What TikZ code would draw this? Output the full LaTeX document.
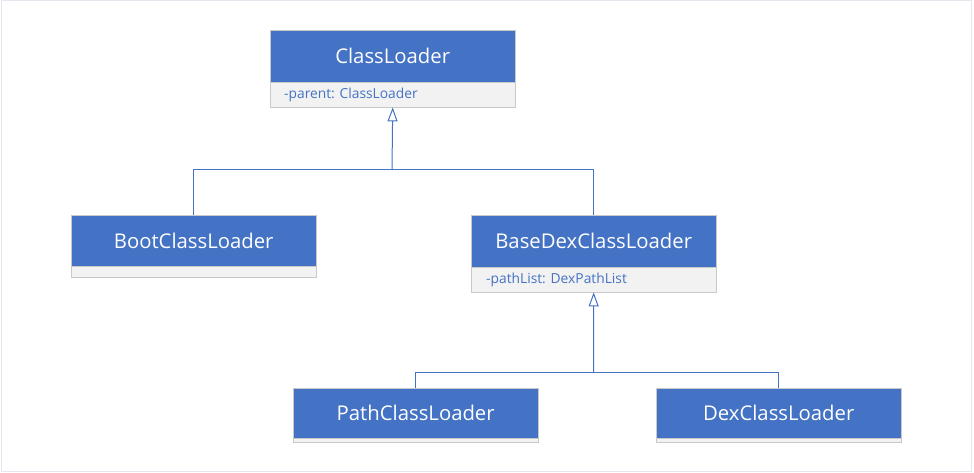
\documentclass[tikz,border=0pt]{standalone}
\usepackage{fontspec}
\setmainfont{Open Sans}
\usetikzlibrary{arrows.meta}
\definecolor{headblue}{HTML}{4472C4}
\definecolor{attrgray}{HTML}{F2F2F2}
\definecolor{boxline}{HTML}{C9C9C9}
\definecolor{frameline}{HTML}{E6E6EE}
\tikzset{
  classhead/.style={draw=boxline, fill=headblue, text=white, anchor=north west,
    inner sep=0pt, minimum width=245pt, font=\fontsize{20.3}{24}\selectfont},
  classattr/.style={draw=boxline, fill=attrgray, anchor=north west, inner sep=0pt,
    minimum width=245pt},
  attrtext/.style={text=headblue, anchor=west, inner sep=0pt, font=\fontsize{13.8}{16}\selectfont},
  connline/.style={color=headblue, line width=1pt},
  inherit/.style={connline, -{Triangle[open, length=14pt, width=10pt]}}
}
\begin{document}
\begin{tikzpicture}[x=1pt,y=-1pt]
\useasboundingbox (0,0) rectangle (974,473);
\draw[frameline, line width=1pt] (1,1) rectangle (971,471);

% ClassLoader
\node[classhead, minimum height=52pt] (clH) at (270,30) {ClassLoader};
\node[classattr, minimum height=25pt] (clA) at (270,82) {};
\node[attrtext] (clT) at (284,94.5) {-parent: ClassLoader};

% BootClassLoader
\node[classhead, minimum height=51pt] (bootH) at (71,215) {BootClassLoader};
\node[classattr, minimum height=11pt] (bootA) at (71,266) {};

% BaseDexClassLoader
\node[classhead, minimum height=52pt] (baseH) at (471,215) {BaseDexClassLoader};
\node[classattr, minimum height=25pt] (baseA) at (471,267) {};
\node[attrtext] (baseT) at (486,279.5) {-pathList: DexPathList};

% PathClassLoader
\node[classhead, minimum height=50pt] (pathH) at (293,388) {PathClassLoader};
\node[classattr, minimum height=4pt] (pathA) at (293,438) {};

% DexClassLoader
\node[classhead, minimum height=50pt] (dexH) at (656,388) {DexClassLoader};
\node[classattr, minimum height=4pt] (dexA) at (656,438) {};

% connectors
\coordinate (j1) at (392,170);
\coordinate (j2) at (593.5,372);
\draw[connline] (bootH.north) |- (j1);
\draw[connline] (baseH.north) |- (j1);
\draw[inherit] (j1) -- (clA.south);
\draw[connline] (pathH.north) |- (j2);
\draw[connline] (dexH.north) |- (j2);
\draw[inherit] (j2) -- (baseA.south);
\end{tikzpicture}
\end{document}
